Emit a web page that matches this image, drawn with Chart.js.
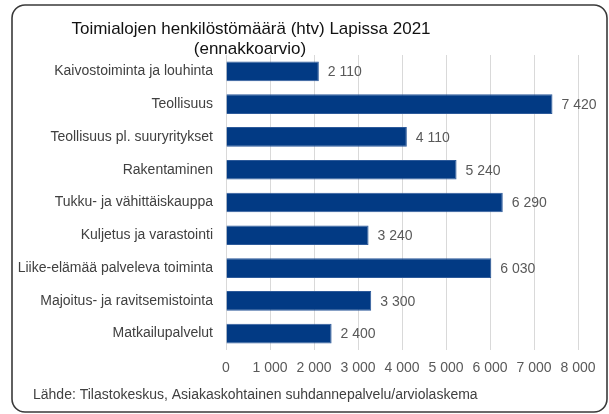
<!DOCTYPE html>
<html>
<head>
<meta charset="utf-8">
<script src="https://cdn.jsdelivr.net/npm/chart.js@4/dist/chart.umd.min.js"></script>
<style>
html,body{margin:0;padding:0;background:#fff;}
#wrap{position:relative;width:609px;height:414px;}
canvas{display:block;}
</style>
</head>
<body>
<div id="wrap"><canvas id="c" width="609" height="414"></canvas></div>
<script>
const categories = [
  "Kaivostoiminta ja louhinta",
  "Teollisuus",
  "Teollisuus pl. suuryritykset",
  "Rakentaminen",
  "Tukku- ja vähittäiskauppa",
  "Kuljetus ja varastointi",
  "Liike-elämää palveleva toiminta",
  "Majoitus- ja ravitsemistointa",
  "Matkailupalvelut"
];
const values = [2110, 7420, 4110, 5240, 6290, 3240, 6030, 3300, 2400];
const titleLines = ["Toimialojen henkilöstömäärä (htv) Lapissa 2021", "(ennakkoarvio)"];
const sourceText = "Lähde: Tilastokeskus, Asiakaskohtainen suhdannepalvelu/arviolaskema";

const FONT = "'Liberation Sans', Arial, sans-serif";
const fmt = v => String(Math.round(v)).replace(/\B(?=(\d{3})+(?!\d))/g, " ");

const decor = {
  id: 'decor',
  beforeDraw(chart) {
    const ctx = chart.ctx;
    ctx.save();
    ctx.fillStyle = '#fff';
    ctx.fillRect(0, 0, chart.width, chart.height);
    const x = 12, y = 5, w = 595, h = 407, r = 13;
    ctx.beginPath();
    ctx.moveTo(x + r, y);
    ctx.lineTo(x + w - r, y);
    ctx.arcTo(x + w, y, x + w, y + r, r);
    ctx.lineTo(x + w, y + h - r);
    ctx.arcTo(x + w, y + h, x + w - r, y + h, r);
    ctx.lineTo(x + r, y + h);
    ctx.arcTo(x, y + h, x, y + h - r, r);
    ctx.lineTo(x, y + r);
    ctx.arcTo(x, y, x + r, y, r);
    ctx.closePath();
    ctx.lineWidth = 1.6;
    ctx.strokeStyle = '#3a3a3a';
    ctx.stroke();
    ctx.restore();
  },
  afterDraw(chart) {
    const ctx = chart.ctx;
    ctx.save();
    ctx.fillStyle = '#111';
    ctx.font = "17px " + FONT;
    ctx.textAlign = 'center';
    ctx.textBaseline = 'middle';
    ctx.fillText(titleLines[0], 251, 29);
    ctx.fillText(titleLines[1], 250, 49);
    ctx.fillStyle = '#404040';
    ctx.font = "14px " + FONT;
    ctx.textAlign = 'left';
    ctx.fillText(sourceText, 33, 395);
    const meta = chart.getDatasetMeta(0);
    ctx.fillStyle = '#595959';
    ctx.font = "14px " + FONT;
    ctx.textBaseline = 'middle';
    meta.data.forEach((bar, i) => {
      ctx.fillText(fmt(values[i]), bar.x + 9, bar.y + 1);
    });
    ctx.restore();
  }
};

new Chart(document.getElementById('c'), {
  type: 'bar',
  data: {
    labels: categories,
    datasets: [{
      data: values,
      backgroundColor: '#023a84',
      borderColor: '#2d5a9a',
      borderWidth: 1,
      categoryPercentage: 1,
      barPercentage: 0.6
    }]
  },
  options: {
    indexAxis: 'y',
    responsive: false,
    animation: false,
    devicePixelRatio: 1,
    layout: { padding: { left: 0, right: 31, top: 55, bottom: 34 } },
    plugins: { legend: { display: false }, tooltip: { enabled: false }, title: { display: false } },
    scales: {
      x: {
        min: 0, max: 8000,
        ticks: {
          stepSize: 1000,
          color: '#595959',
          font: { family: FONT, size: 14 },
          padding: 10,
          maxRotation: 0,
          callback: v => fmt(v)
        },
        grid: { color: '#d9d9d9', lineWidth: 1, drawTicks: false },
        border: { display: false },
        afterFit(s) { s.height = 30; }
      },
      y: {
        ticks: {
          color: '#404040',
          font: { family: FONT, size: 14 },
          padding: 13,
          autoSkip: false
        },
        grid: { display: false, drawTicks: false },
        border: { display: false },
        afterFit(s) { s.width = 226; }
      }
    }
  },
  plugins: [decor]
});
</script>
</body>
</html>
